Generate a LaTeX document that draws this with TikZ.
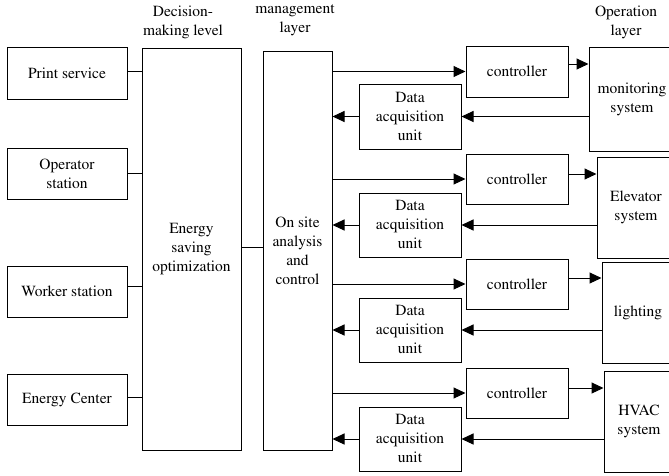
\documentclass[tikz,border=0pt]{standalone}
\usepackage[T1]{fontenc}
\usepackage{times}
\usetikzlibrary{arrows.meta}
\begin{document}
\begin{tikzpicture}[x=1pt,y=-1pt,
  box/.style={draw,line width=1pt,inner sep=0pt,align=center,font=\fontsize{15.5}{19}\selectfont},
  hdr/.style={inner sep=0pt,align=center,font=\fontsize{15.5}{19}\selectfont},
  ln/.style={line width=1pt},
  arr/.style={line width=1pt,-{Triangle[length=12pt,width=11pt]}}]
\useasboundingbox (0,0) rectangle (669,475);
\clip (0,0) rectangle (669,475);
% headers
\node[hdr] (h1) at (183,22.5) {Decision-\\making level};
\node[hdr] (h2) at (295,20) {management\\layer};
\node[hdr] (h3) at (626,22.5) {Operation\\layer};
% left column
\node[box,minimum width=120pt,minimum height=52pt] (ps) at (67,73) {Print service};
\node[box,minimum width=120pt,minimum height=51pt] (os) at (67,173.5) {Operator\\station};
\node[box,minimum width=120pt,minimum height=51pt] (ws) at (67,291.5) {Worker station};
\node[box,minimum width=120pt,minimum height=51pt] (ec) at (67,399.5) {Energy Center};
% decision
\node[box,minimum width=99pt,minimum height=402pt] (dec) at (191.5,249) {Energy\\saving\\optimization};
% management
\node[box,minimum width=69pt,minimum height=399pt] (mg) at (297.5,250.5) {On site\\analysis\\and\\control};
% controllers
\node[box,minimum width=102pt,minimum height=51pt] (c1) at (517,71.5) {controller};
\node[box,minimum width=102pt,minimum height=50pt] (c2) at (517,179) {controller};
\node[box,minimum width=102pt,minimum height=50pt] (c3) at (517,284) {controller};
\node[box,minimum width=102pt,minimum height=50pt] (c4) at (517,393) {controller};
% data acquisition
\node[box,minimum width=102pt,minimum height=65pt] (d1) at (410,116.5) {Data\\acquisition\\unit};
\node[box,minimum width=102pt,minimum height=64pt] (d2) at (410,225) {Data\\acquisition\\unit};
\node[box,minimum width=102pt,minimum height=64pt] (d3) at (410,330) {Data\\acquisition\\unit};
\node[box,minimum width=102pt,minimum height=64pt] (d4) at (410,439) {Data\\acquisition\\unit};
% systems
\node[box,minimum width=86pt,minimum height=104pt] (m1) at (632,99) {monitoring\\system};
\node[box,minimum width=78pt,minimum height=101pt] (m2) at (636,207.5) {Elevator\\system};
\node[box,minimum width=72pt,minimum height=101pt] (m3) at (638,312.5) {lighting};
\node[box,minimum width=70pt,minimum height=101pt] (m4) at (639,421.5) {HVAC\\system};
% left connectors
\draw[ln] ([yshift=2pt]ps.east) coordinate (t1) -- (t1 -| dec.west);
\draw[ln] (os.east) -- (os.east -| dec.west);
\draw[ln] ([yshift=5.5pt]ws.east) coordinate (t2) -- (t2 -| dec.west);
\draw[ln] ([yshift=2.5pt]ec.east) coordinate (t3) -- (t3 -| dec.west);
\draw[ln] ([yshift=2pt]dec.east) coordinate (t4) -- (t4 -| mg.west);
% management to controllers, daq to management
\foreach \i in {1,2,3,4}{
  \draw[arr] (c\i.west -| mg.east) -- (c\i.west);
  \draw[arr] (d\i.west) -- (d\i.west -| mg.east);
  \draw[arr] (d\i.east -| m\i.west) -- (d\i.east);
}
\draw[arr] ([yshift=7.5pt]c1.east) coordinate (u1) -- (u1 -| m1.west);
\draw[arr] ([yshift=5pt]c2.east) coordinate (u2) -- (u2 -| m2.west);
\draw[arr] ([yshift=6pt]c3.east) coordinate (u3) -- (u3 -| m3.west);
\draw[arr] ([yshift=5pt]c4.east) coordinate (u4) -- (u4 -| m4.west);
\end{tikzpicture}
\end{document}
